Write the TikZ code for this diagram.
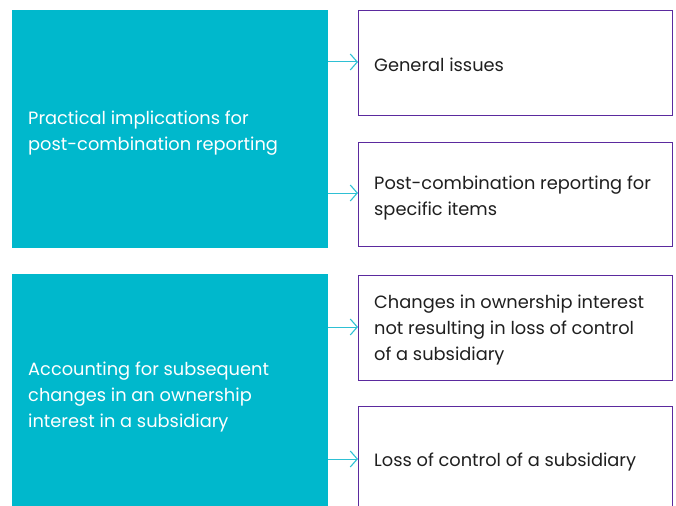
\documentclass[tikz,border=0pt]{standalone}
\usepackage{fontspec}
\setmainfont{Poppins}
\usetikzlibrary{arrows.meta}
\definecolor{tealbox}{HTML}{00B8CC}
\definecolor{arrowcol}{HTML}{2EC0D4}
\definecolor{purpleline}{HTML}{5B2A9E}
\begin{document}
\begin{tikzpicture}[x=1pt,y=-1pt,
  leftbox/.style={fill=tealbox,draw=none},
  rightbox/.style={draw=purpleline,line width=1.3pt,fill=white},
  lefttext/.style={text=white,anchor=west,align=left,inner sep=0pt,font=\fontsize{17.8}{26}\selectfont},
  righttext/.style={text=black!88,anchor=west,align=left,inner sep=0pt,font=\fontsize{17.8}{26}\selectfont},
  conn/.style={draw=arrowcol,line width=1pt,-{Straight Barb[length=7pt,width=16pt,line width=1.1pt]}}]
\useasboundingbox (0,0) rectangle (676,505);
\clip (0,0) rectangle (676,505);
\path[leftbox] (12,10) rectangle (328,248);
\path[leftbox] (12,274) rectangle (328,520);
\node[lefttext] (t1) at (28,133) {Practical implications for\\post-combination reporting};
\node[lefttext] (t2) at (28,397) {Accounting for subsequent\\changes in an ownership\\interest in a subsidiary};
\node[rightbox,minimum width=314pt,minimum height=105pt,anchor=north west] (b1) at (358,10) {};
\node[rightbox,minimum width=314pt,minimum height=104pt,anchor=north west] (b2) at (358,142) {};
\node[rightbox,minimum width=314pt,minimum height=105pt,anchor=north west] (b3) at (358,275) {};
\node[rightbox,minimum width=314pt,minimum height=120pt,anchor=north west] (b4) at (358,406) {};
\node[righttext] (r1) at (374,65) {General issues};
\node[righttext] (r2) at (374,198) {Post-combination reporting for\\specific items};
\node[righttext] (r3) at (374,330) {Changes in ownership interest\\not resulting in loss of control\\of a subsidiary};
\node[righttext] (r4) at (374,462) {Loss of control of a subsidiary};
\coordinate (s1) at (328,62);
\coordinate (s2) at (328,193);
\coordinate (s3) at (328,327);
\coordinate (s4) at (328,459);
\draw[conn] (s1) -- (s1 -| b1.west);
\draw[conn] (s2) -- (s2 -| b2.west);
\draw[conn] (s3) -- (s3 -| b3.west);
\draw[conn] (s4) -- (s4 -| b4.west);
\end{tikzpicture}
\end{document}
